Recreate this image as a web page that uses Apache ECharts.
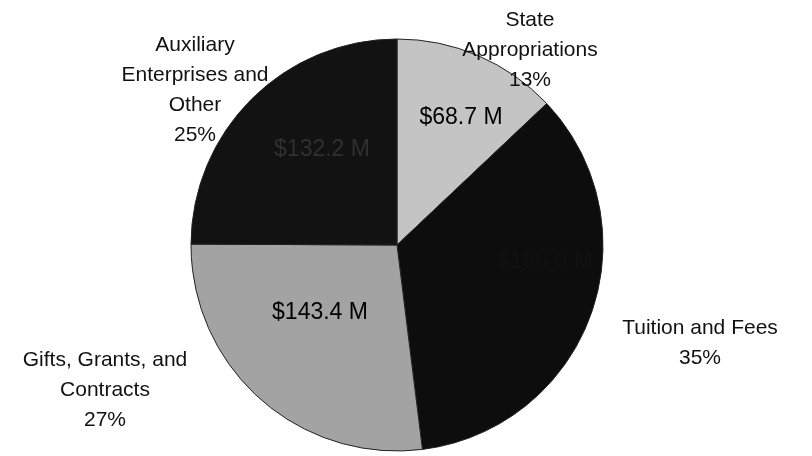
<!DOCTYPE html>
<html>
<head>
	<meta charset="utf-8">
	<title>Revenue sources</title>
	<script src="https://cdn.jsdelivr.net/npm/echarts@6/dist/echarts.min.js"></script>
	<style>
html, body { margin: 0; padding: 0; background: #fff; }
#main { width: 812px; height: 456px; }
	</style>
</head>
<body>
<div id="main"></div>
<script>
// data
var categories = ['State\nAppropriations', 'Tuition and Fees', 'Gifts, Grants, and\nContracts', 'Auxiliary\nEnterprises and\nOther'];
var amounts = [68.7, 186.0, 143.4, 132.2];       // $ millions
var percents = [13, 35, 27, 25];
var amountLabels = ['$68.7 M', '$186.0 M', '$143.4 M', '$132.2 M'];

var sliceColors = ['#c4c4c4', '#0d0d0d', '#a3a3a3', '#121212'];
var amountColors = ['#000', '#121212', '#000', '#303030'];
// where the text blocks sit
var outerPos = [[530, 50], [700, 343], [105, 390], [195, 90]];
var innerPos = [[461, 118], [545, 262], [320, 313], [322, 150]];

var myChart = echarts.init(document.getElementById('main'));

var sliceData = [];
var labelData = [];
for (var i = 0; i < categories.length; i++) {
	sliceData.push({
		value: amounts[i],
		name: categories[i],
		itemStyle: { color: sliceColors[i] },
		label: { color: amountColors[i] }
	});
	labelData.push({ value: amounts[i], name: categories[i] });
}

var option = {
	animation: false,
	series: [
		{
			type: 'pie',
			center: [397, 245],
			radius: 206,
			startAngle: 90,
			clockwise: true,
			data: sliceData,
			itemStyle: { borderColor: '#222', borderWidth: 1 },
			label: {
				position: 'inside',
				fontFamily: 'Liberation Sans',
				fontSize: 23,
				formatter: function (p) { return amountLabels[p.dataIndex]; }
			},
			labelLine: { show: false },
			labelLayout: function (p) {
				return { x: innerPos[p.dataIndex][0], y: innerPos[p.dataIndex][1], align: 'center', verticalAlign: 'middle' };
			},
			emphasis: { disabled: true }
		},
		{
			type: 'pie',
			silent: true,
			center: [397, 245],
			radius: 206,
			startAngle: 90,
			clockwise: true,
			data: labelData,
			itemStyle: { color: 'rgba(0,0,0,0)' },
			label: {
				position: 'outside',
				fontFamily: 'Liberation Sans',
				fontSize: 21,
				lineHeight: 30,
				color: '#111',
				align: 'center',
				formatter: function (p) { return p.name + '\n' + percents[p.dataIndex] + '%'; }
			},
			labelLine: { show: false },
			labelLayout: function (p) {
				return { x: outerPos[p.dataIndex][0], y: outerPos[p.dataIndex][1], align: 'center', verticalAlign: 'middle' };
			}
		}
	]
};
myChart.setOption(option);
</script>
</body>
</html>
